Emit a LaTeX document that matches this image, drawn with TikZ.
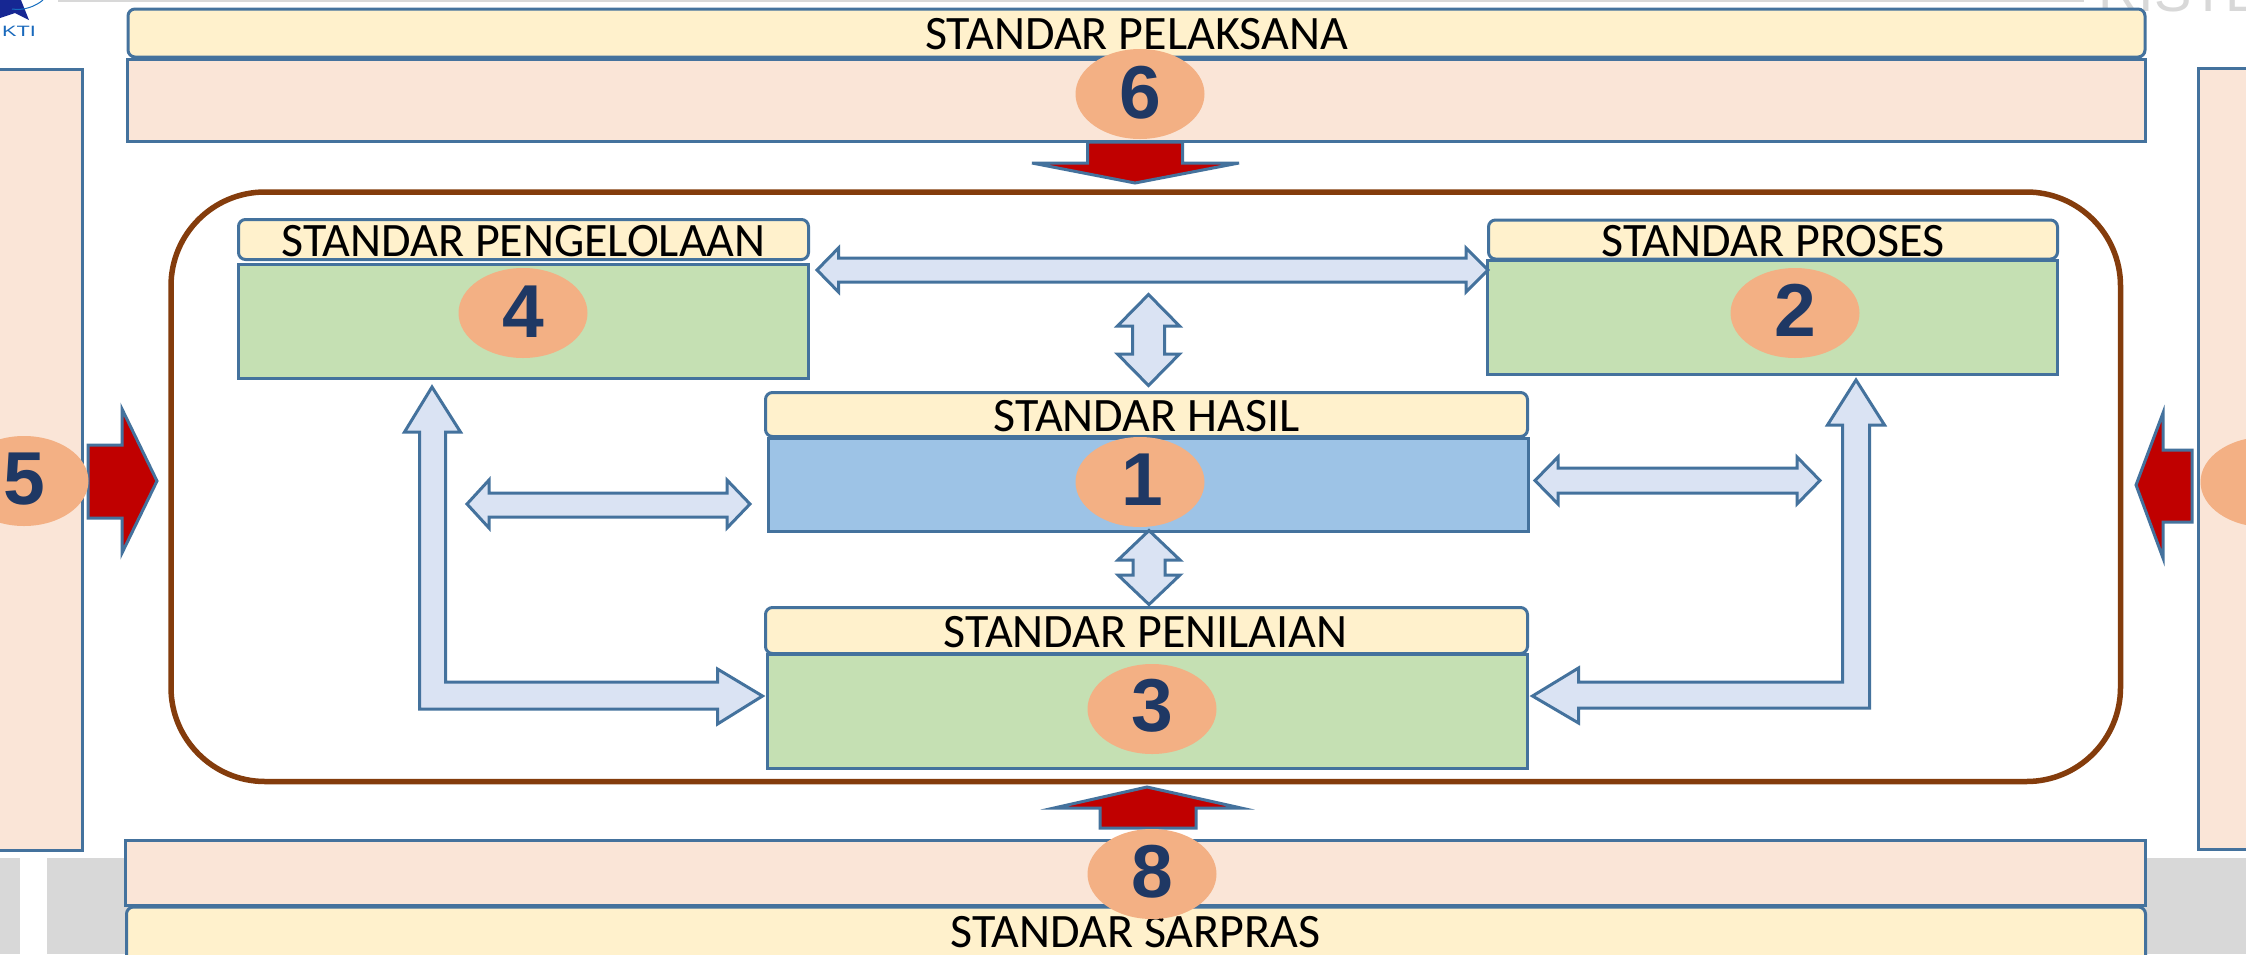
\documentclass[tikz,border=0pt]{standalone}
\usepackage{fontspec}
\setmainfont{Carlito}
\newfontfamily\digitfont{Liberation Sans}
\usetikzlibrary{shapes.geometric}
\definecolor{edgeblue}{HTML}{44729D}
\definecolor{peach}{HTML}{FAE5D7}
\definecolor{cream}{HTML}{FFF1CC}
\definecolor{leaf}{HTML}{C5E0B3}
\definecolor{sky}{HTML}{9DC3E6}
\definecolor{pale}{HTML}{DAE3F3}
\definecolor{badge}{HTML}{F3B084}
\definecolor{navy}{HTML}{1F3864}
\definecolor{rust}{HTML}{843C0C}
\definecolor{crimson}{HTML}{C00000}
\definecolor{band}{HTML}{D8D8D8}
\tikzset{
  x=1pt,y=-1pt,
  boxbase/.style={draw=edgeblue,line width=3pt,inner sep=0pt,outer sep=0pt},
  peachbox/.style={boxbase,fill=peach},
  creambox/.style={boxbase,fill=cream,rounded corners=7pt},
  leafbox/.style={boxbase,fill=leaf},
  skybox/.style={boxbase,fill=sky},
  frame/.style={draw=rust,line width=5.5pt,rounded corners=94pt,inner sep=0pt},
  badgeshape/.style={ellipse,fill=badge,inner sep=0pt,minimum width=129pt,minimum height=90pt},
  title/.style={anchor=base,inner sep=0pt,font=\fontsize{48}{48}\selectfont,text=black},
  numeral/.style={anchor=base,inner sep=0pt,font=\digitfont\bfseries\fontsize{75}{75}\selectfont,text=navy},
  paleflow/.style={draw=edgeblue,fill=pale,line width=3pt,miter limit=10},
  redflow/.style={draw=edgeblue,fill=crimson,line width=3pt,miter limit=10},
}
\begin{document}
\begin{tikzpicture}
\useasboundingbox (0,0) rectangle (2246,954);
\fill[white] (0,0) rectangle (2246,954);
% page remnants behind the diagram
\fill[band] (0,858) rectangle (20,954);
\fill[band] (47,858) rectangle (2246,954);
\fill[band] (58,0) rectangle (2084,2);
\node[anchor=base west,inner sep=0pt,text=band,font=\digitfont\fontsize{56}{56}\selectfont] (ristek) at (2098,11) {RISTEK};
\fill[navy!70!blue] (0,0) -- (21,0) -- (29,20) -- (15,13) -- (0,18) -- cycle;
\draw[cyan!50!blue,line width=1pt] (12,9) .. controls (24,11) and (36,6) .. (43,0);
\node[anchor=base west,inner sep=0pt,text=cyan!45!blue,font=\digitfont\fontsize{15}{15}\selectfont] (logotext) at (2,36) {\scalebox{1.45}[1]{KTI}};
% outer bars
\node[peachbox,minimum width=300pt,minimum height=781pt] (leftbar) at (-67.5,460) {};
\node[peachbox,minimum width=300pt,minimum height=781pt] (rightbar) at (2348,459) {};
\node[creambox,minimum width=2017pt,minimum height=48pt] (tophead) at (1136.5,33) {};
\node[peachbox,minimum width=2018pt,minimum height=82pt] (topbar) at (1136.5,100.5) {};
\node[peachbox,minimum width=2020pt,minimum height=65pt] (botbar) at (1135.5,873) {};
\node[creambox,minimum width=2019pt,minimum height=60pt] (bothead) at (1136,937) {};
% frame
\node[frame,minimum width=1949.5pt,minimum height=589.5pt] (frame) at (1145.75,486.75) {};
% inner boxes
\node[leafbox,minimum width=570pt,minimum height=114pt] (body4) at (523.5,321) {};
\node[creambox,minimum width=570pt,minimum height=40pt] (head4) at (523.5,239.5) {};
\node[leafbox,minimum width=570pt,minimum height=114pt] (body2) at (1772.5,317.5) {};
\node[creambox,minimum width=569pt,minimum height=39pt] (head2) at (1773,239.5) {};
\node[skybox,minimum width=760pt,minimum height=93pt] (body1) at (1148.5,485) {};
\node[creambox,minimum width=762pt,minimum height=44pt] (head1) at (1146.5,414.5) {};
\node[leafbox,minimum width=760pt,minimum height=114pt] (body3) at (1147.5,711.5) {};
\node[creambox,minimum width=762pt,minimum height=46pt] (head3) at (1146.5,630.5) {};
% red arrows
\coordinate (redtop) at (1135,183);
\coordinate (redbot) at (1147,787);
\coordinate (redleft) at (157,481);
\coordinate (redright) at (2136,485);
\draw[redflow] (redtop) -- ++(-103,-20) -- ++(55.5,0) -- ++(0,-21) -- ++(95,0) -- ++(0,21) -- ++(56.5,0) -- cycle;
\draw[redflow] (redbot) -- ++(-93,21) -- ++(46,0) -- ++(0,20) -- ++(96,0) -- ++(0,-20) -- ++(45,0) -- cycle;
\draw[redflow] (redleft) -- ++(-35,-72) -- ++(0,36) -- ++(-34,0) -- ++(0,73) -- ++(34,0) -- ++(0,35) -- cycle;
\draw[redflow] (redright) -- ++(27,-72) -- ++(0,37) -- ++(29,0) -- ++(0,72) -- ++(-29,0) -- ++(0,36) -- cycle;
% pale block arrows
\coordinate (flowA) at (817,270);
\coordinate (flowB) at (1148.5,294.5);
\coordinate (flowC) at (467,504);
\coordinate (flowD) at (1535,480.5);
\coordinate (flowE) at (1149,530.5);
\coordinate (flowF) at (432,387);
\coordinate (flowG) at (1856,380);
\draw[paleflow] (flowA) -- ++(21.5,-22) -- ++(0,10) -- ++(627.5,0) -- ++(0,-10) -- ++(22,22) -- ++(-22,22) -- ++(0,-10) -- ++(-627.5,0) -- ++(0,10) -- cycle;
\draw[paleflow] (flowB) -- ++(31,31.5) -- ++(-15,0) -- ++(0,28) -- ++(15,0) -- ++(-31,31.5) -- ++(-31,-31.5) -- ++(15,0) -- ++(0,-28) -- ++(-15,0) -- cycle;
\draw[paleflow] (flowC) -- ++(22,-24) -- ++(0,13) -- ++(238,0) -- ++(0,-13) -- ++(23,24) -- ++(-23,24) -- ++(0,-11) -- ++(-238,0) -- ++(0,11) -- cycle;
\draw[paleflow] (flowD) -- ++(23,-23.5) -- ++(0,11) -- ++(239,0) -- ++(0,-11) -- ++(23,23.5) -- ++(-23,23.5) -- ++(0,-11) -- ++(-239,0) -- ++(0,11) -- cycle;
\draw[paleflow] (flowE) -- ++(31,29.5) -- ++(-15,0) -- ++(0,15) -- ++(15,0) -- ++(-31,29.5) -- ++(-31,-29.5) -- ++(15,0) -- ++(0,-15) -- ++(-15,0) -- cycle;
\draw[paleflow] (flowF) -- ++(28.5,45) -- ++(-15,0) -- ++(0,250) -- ++(272,0) -- ++(0,-13) -- ++(45,27) -- ++(-45,28) -- ++(0,-15) -- ++(-298,0) -- ++(0,-277) -- ++(-15,0) -- cycle;
\draw[paleflow] (flowG) -- ++(28.5,45) -- ++(-15,0) -- ++(0,283) -- ++(-291,0) -- ++(0,15) -- ++(-46,-27) -- ++(46,-28) -- ++(0,14) -- ++(264,0) -- ++(0,-257) -- ++(-15,0) -- cycle;
% titles
\node[title] (t6) at (1136.5,49) {STANDAR PELAKSANA};
\node[title] (t4) at (523.5,256.5) {STANDAR PENGELOLAAN};
\node[title] (t2) at (1773,256.5) {STANDAR PROSES};
\node[title] (t1) at (1146.5,431.5) {STANDAR HASIL};
\node[title] (t3) at (1145.5,647.5) {STANDAR PENILAIAN};
\node[title] (t8) at (1135.5,947) {STANDAR SARPRAS};
% badges
\node[badgeshape] (badge6) at (1140,94) {};
\node[badgeshape] (badge4) at (523,313) {};
\node[badgeshape] (badge2) at (1795,313) {};
\node[badgeshape] (badge1) at (1140,482) {};
\node[badgeshape] (badge3) at (1152,709) {};
\node[badgeshape] (badge8) at (1152,874) {};
\node[badgeshape] (badge5) at (24,481) {};
\node[badgeshape] (badge7) at (2265,482) {};
% numerals
\node[numeral] (n6) at (1140,118) {6};
\node[numeral] (n4) at (523,337) {4};
\node[numeral] (n2) at (1795,336) {2};
\node[numeral] (n1) at (1142,505) {1};
\node[numeral] (n3) at (1152,731) {3};
\node[numeral] (n8) at (1152,897) {8};
\node[numeral] (n5) at (24,504) {5};
\end{tikzpicture}
\end{document}
